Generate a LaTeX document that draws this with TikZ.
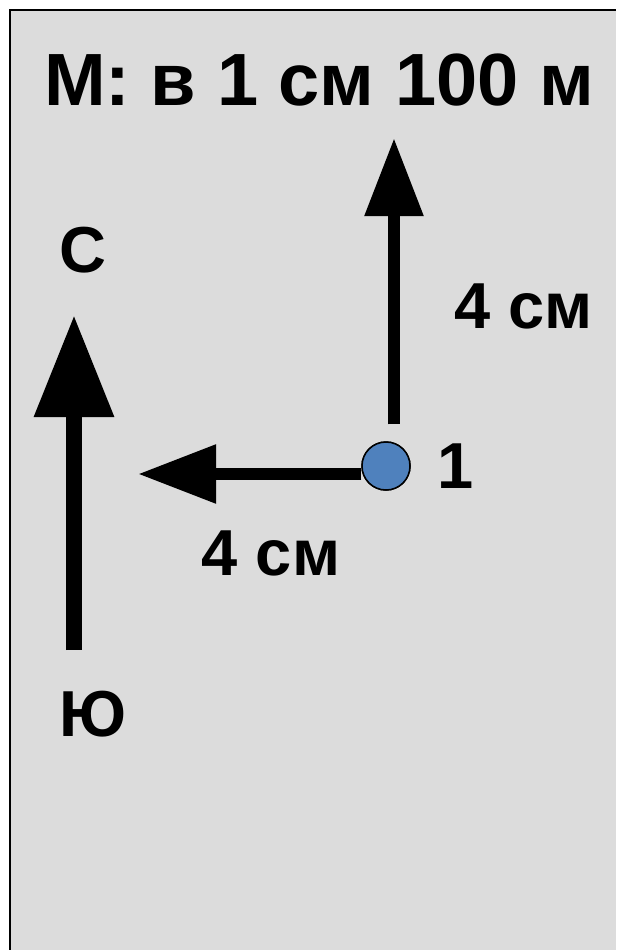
\documentclass[tikz,border=0pt]{standalone}
\usepackage{fontspec}
\setmainfont{Liberation Sans}
\usetikzlibrary{arrows.meta}
\definecolor{bg}{HTML}{DCDCDC}
\definecolor{dot}{HTML}{4F81BD}
\tikzset{
  lbl/.style={font=\fontsize{65}{70}\selectfont\bfseries, inner sep=0pt, anchor=base},
  ttl/.style={font=\fontsize{74}{80}\selectfont\bfseries, inner sep=0pt, anchor=base west},
  arrsmall/.style={line width=12pt, -{Triangle[length=78pt,width=56pt]}},
  arrbig/.style={line width=16pt, -{Triangle[length=102pt,width=76pt]}},
  pt/.style={circle, fill=dot, draw=black, line width=1.5pt, minimum size=48pt, inner sep=0pt}
}
\begin{document}
\begin{tikzpicture}[x=1pt,y=-1pt]
\useasboundingbox (0,0) rectangle (616,950);
\fill[white] (0,0) rectangle (616,950);
\fill[bg] (10,10) rectangle (616,950);
\draw[line width=2.5pt] (10,950) -- (10,10) -- (616,10);
\node[ttl] (title) at (44,105) {М: в 1 см 100 м};
\node[lbl] (north) at (83,272) {С};
\node[lbl] (south) at (93.5,736) {Ю};
\node[lbl] (d1) at (523.5,328) {4 см};
\node[lbl] (d2) at (271,575) {4 см};
\node[lbl] (n1) at (456,488) {1};
\coordinate (cs) at (74,650);
\coordinate (ce) at (74,315);
\draw[arrbig] (cs) -- (ce);
\node[pt] (p1) at (386,466) {};
\coordinate (ue) at (394,138);
\coordinate (le) at (138,474);
\draw[arrsmall] ([xshift=8pt,yshift=17pt]p1.north) -- (ue);
\draw[arrsmall] ([yshift=-8pt]p1.west) -- (le);
\node[pt] at (p1) {};
\end{tikzpicture}
\end{document}
